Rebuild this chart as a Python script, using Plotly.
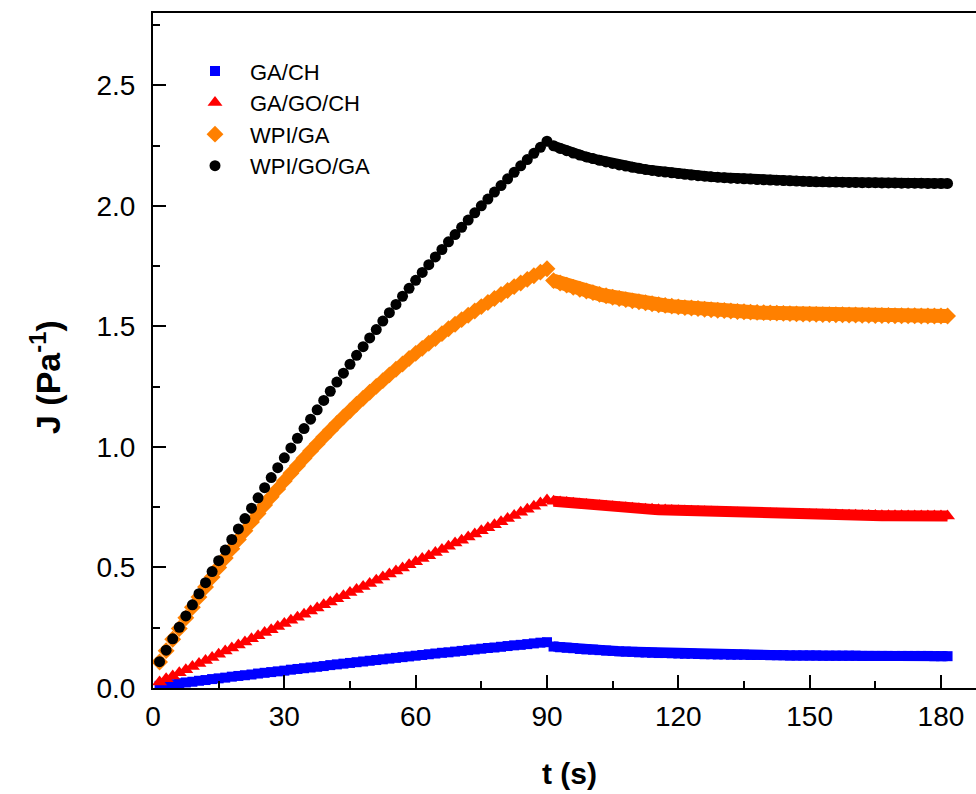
import plotly.graph_objects as go

# time grid (s): creep 1.5..90, recovery 91.5..181.5
t = [round(1.5 * i, 1) for i in range(1, 122)]
N_CREEP = 60

ga_ch = [
    0.009, 0.013, 0.016, 0.020, 0.023, 0.026, 0.030, 0.033, 0.037, 0.040,
    0.043, 0.047, 0.050, 0.053, 0.056, 0.060, 0.063, 0.066, 0.069, 0.072,
    0.076, 0.079, 0.082, 0.085, 0.088, 0.091, 0.095, 0.098, 0.101, 0.104,
    0.107, 0.110, 0.113, 0.116, 0.119, 0.122, 0.125, 0.128, 0.131, 0.134,
    0.137, 0.140, 0.143, 0.146, 0.148, 0.151, 0.154, 0.157, 0.160, 0.163,
    0.166, 0.168, 0.171, 0.174, 0.177, 0.179, 0.182, 0.185, 0.188, 0.190,
    0.172, 0.169, 0.167, 0.165, 0.162, 0.160, 0.159, 0.157, 0.155, 0.154,
    0.152, 0.151, 0.150, 0.148, 0.147, 0.146, 0.145, 0.145, 0.144, 0.143,
    0.142, 0.142, 0.141, 0.140, 0.140, 0.139, 0.139, 0.138, 0.138, 0.138,
    0.137, 0.137, 0.137, 0.136, 0.136, 0.136, 0.135, 0.135, 0.135, 0.135,
    0.135, 0.134, 0.134, 0.134, 0.134, 0.134, 0.134, 0.133, 0.133, 0.133,
    0.133, 0.133, 0.133, 0.133, 0.133, 0.133, 0.133, 0.133, 0.132, 0.132, 0.132,
]

ga_go_ch = [
    0.025, 0.038, 0.050, 0.063, 0.076, 0.089, 0.102, 0.114, 0.127, 0.140,
    0.153, 0.166, 0.178, 0.191, 0.204, 0.217, 0.230, 0.242, 0.255, 0.268,
    0.281, 0.293, 0.306, 0.319, 0.332, 0.345, 0.357, 0.370, 0.383, 0.396,
    0.409, 0.421, 0.434, 0.447, 0.460, 0.473, 0.485, 0.498, 0.511, 0.524,
    0.537, 0.549, 0.562, 0.575, 0.588, 0.601, 0.613, 0.626, 0.639, 0.652,
    0.665, 0.677, 0.690, 0.703, 0.716, 0.729, 0.741, 0.754, 0.767, 0.780,
    0.775, 0.772, 0.769, 0.766, 0.763, 0.761, 0.758, 0.756, 0.754, 0.752,
    0.749, 0.748, 0.746, 0.744, 0.742, 0.741, 0.739, 0.738, 0.736, 0.735,
    0.734, 0.733, 0.732, 0.731, 0.730, 0.729, 0.728, 0.727, 0.726, 0.725,
    0.725, 0.724, 0.723, 0.723, 0.722, 0.721, 0.721, 0.720, 0.720, 0.719,
    0.719, 0.718, 0.718, 0.718, 0.717, 0.717, 0.717, 0.716, 0.716, 0.716,
    0.715, 0.715, 0.715, 0.715, 0.714, 0.714, 0.714, 0.714, 0.714, 0.713, 0.713,
]

wpi_ga = [
    0.108, 0.155, 0.202, 0.247, 0.291, 0.335, 0.377, 0.419, 0.460, 0.500,
    0.539, 0.578, 0.616, 0.652, 0.689, 0.724, 0.759, 0.793, 0.826, 0.859,
    0.891, 0.922, 0.953, 0.983, 1.012, 1.041, 1.069, 1.097, 1.124, 1.150,
    1.177, 1.202, 1.227, 1.251, 1.275, 1.299, 1.322, 1.344, 1.367, 1.388,
    1.409, 1.430, 1.450, 1.470, 1.490, 1.509, 1.528, 1.546, 1.564, 1.582,
    1.599, 1.616, 1.632, 1.649, 1.665, 1.680, 1.695, 1.710, 1.725, 1.739,
    1.690, 1.680, 1.671, 1.662, 1.654, 1.647, 1.640, 1.633, 1.627, 1.621,
    1.616, 1.611, 1.606, 1.602, 1.598, 1.594, 1.590, 1.587, 1.584, 1.581,
    1.578, 1.576, 1.574, 1.571, 1.569, 1.567, 1.566, 1.564, 1.562, 1.561,
    1.559, 1.558, 1.557, 1.556, 1.555, 1.554, 1.553, 1.552, 1.551, 1.551,
    1.550, 1.549, 1.549, 1.548, 1.548, 1.547, 1.547, 1.546, 1.546, 1.545,
    1.545, 1.545, 1.544, 1.544, 1.544, 1.544, 1.543, 1.543, 1.543, 1.543, 1.543,
]

wpi_go_ga = [
    0.109, 0.157, 0.204, 0.252, 0.299, 0.345, 0.391, 0.437, 0.483, 0.528,
    0.572, 0.616, 0.660, 0.703, 0.746, 0.789, 0.831, 0.873, 0.914, 0.955,
    0.996, 1.036, 1.076, 1.115, 1.154, 1.193, 1.231, 1.269, 1.306, 1.343,
    1.380, 1.416, 1.452, 1.487, 1.522, 1.557, 1.591, 1.625, 1.658, 1.691,
    1.724, 1.756, 1.788, 1.819, 1.851, 1.881, 1.911, 1.941, 1.971, 2.000,
    2.028, 2.057, 2.084, 2.112, 2.139, 2.166, 2.192, 2.218, 2.243, 2.268,
    2.249, 2.238, 2.229, 2.219, 2.211, 2.203, 2.196, 2.189, 2.182, 2.176,
    2.170, 2.165, 2.160, 2.156, 2.151, 2.147, 2.143, 2.140, 2.137, 2.134,
    2.131, 2.128, 2.125, 2.123, 2.121, 2.119, 2.117, 2.115, 2.114, 2.112,
    2.111, 2.109, 2.108, 2.107, 2.106, 2.105, 2.104, 2.103, 2.102, 2.101,
    2.100, 2.100, 2.099, 2.099, 2.098, 2.097, 2.097, 2.096, 2.096, 2.096,
    2.095, 2.095, 2.095, 2.094, 2.094, 2.094, 2.094, 2.093, 2.093, 2.093, 2.093,
]

# name, values, colour, symbol, marker size, band width of recovery segment
series = [
    ("GA/CH", ga_ch, "#0000FF", "square", 10, 10),
    ("GA/GO/CH", ga_go_ch, "#FF0000", "triangle-up", 13, 11),
    ("WPI/GA", wpi_ga, "#FF8000", "diamond", 13, 14),
    ("WPI/GO/GA", wpi_go_ga, "#000000", "circle", 11, 10),
]

x_ticks = [0, 30, 60, 90, 120, 150, 180]
y_ticks = [0.0, 0.5, 1.0, 1.5, 2.0, 2.5]

fig = go.Figure()
for name, vals, color, sym, size, band in series:
    mk = dict(color=color, symbol=sym, size=size, line=dict(width=0))
    # creep segment
    fig.add_trace(go.Scatter(
        x=t[:N_CREEP], y=vals[:N_CREEP], mode="markers", name=name,
        marker=mk, legendgroup=name,
    ))
    # recovery segment (dense markers form a continuous band)
    fig.add_trace(go.Scatter(
        x=t[N_CREEP:], y=vals[N_CREEP:], mode="lines+markers", name=name,
        marker=mk, line=dict(color=color, width=band), legendgroup=name,
        showlegend=False,
    ))

FONT = "Liberation Sans, Arial, sans-serif"
axis_common = dict(
    showline=True, linecolor="black", linewidth=2,
    ticks="inside", ticklen=13, tickwidth=2, tickcolor="black",
    showgrid=False, zeroline=False,
    tickfont=dict(family=FONT, size=28, color="black"),
)

fig.update_layout(
    width=976, height=794,
    margin=dict(l=153, r=0, t=13, b=106),
    paper_bgcolor="white", plot_bgcolor="white",
    font=dict(family=FONT, color="black"),
    xaxis=dict(
        range=[0, 188], tickvals=x_ticks, mirror=True,
        minor=dict(ticks="inside", ticklen=7, tickwidth=2, dtick=15, tick0=0, tickcolor="black"),
        ticklabelstandoff=2,
        **axis_common,
    ),
    yaxis=dict(
        range=[0, 2.8], tickvals=y_ticks, tickformat=".1f",
        minor=dict(ticks="inside", ticklen=7, tickwidth=2, dtick=0.25, tick0=0, tickcolor="black"),
        ticklabelstandoff=10,
        **axis_common,
    ),
    legend=dict(
        x=(180 - 153) / 823, y=0.945, xanchor="left", yanchor="top",
        bgcolor="rgba(0,0,0,0)", font=dict(family=FONT, size=22, color="black"),
        itemwidth=60, tracegroupgap=0,
    ),
    annotations=[
        dict(text="<b>t (s)</b>", xref="paper", yref="paper",
             x=(569 - 153) / 823, y=-(773 - 688) / 675, xanchor="center", yanchor="middle",
             showarrow=False, font=dict(family=FONT, size=30, color="black")),
        dict(text="<b>J (Pa<sup>-1</sup>)</b>", xref="paper", yref="paper",
             x=-(153 - 45) / 823, y=(688 - 377) / 675, xanchor="center", yanchor="middle",
             textangle=-90, showarrow=False, font=dict(family=FONT, size=34, color="black")),
    ],
    hovermode=False,
)

fig.write_html("out.html")
